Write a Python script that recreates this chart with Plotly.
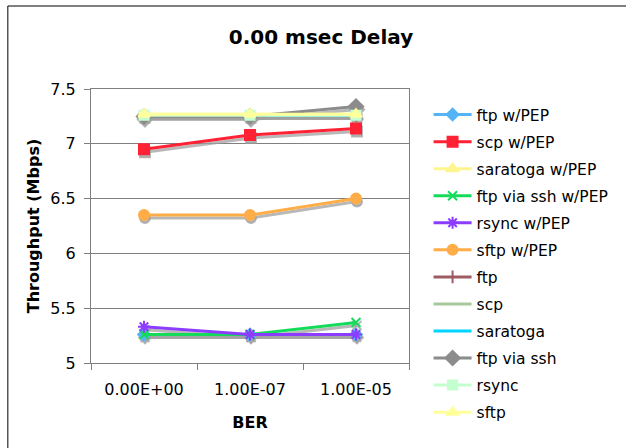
import plotly.graph_objects as go

categories = ["0.00E+00", "1.00E-07", "1.00E-05"]

series_names = [
    "ftp w/PEP", "scp w/PEP", "saratoga w/PEP", "ftp via ssh w/PEP",
    "rsync w/PEP", "sftp w/PEP", "ftp", "scp", "saratoga",
    "ftp via ssh", "rsync", "sftp",
]

ftp_pep = [5.26, 5.26, 5.26]
scp_pep = [6.95, 7.08, 7.14]
saratoga_pep = [7.27, 7.27, 7.27]
ftp_ssh_pep = [5.26, 5.26, 5.37]
rsync_pep = [5.33, 5.26, 5.26]
sftp_pep = [6.35, 6.35, 6.50]
ftp = [7.26, 7.26, 7.26]
scp = [7.26, 7.26, 7.26]
saratoga = [7.26, 7.26, 7.26]
ftp_ssh = [7.25, 7.25, 7.34]
rsync = [7.26, 7.26, 7.26]
sftp = [7.27, 7.27, 7.27]

values = [ftp_pep, scp_pep, saratoga_pep, ftp_ssh_pep, rsync_pep, sftp_pep,
          ftp, scp, saratoga, ftp_ssh, rsync, sftp]

colors = ["#55b4f5", "#ff2234", "#fff58f", "#14dc5a", "#8c3cff", "#ffad48",
          "#9c5c62", "#a8c89c", "#00d4ff", "#8c8c8c", "#c4ffd0", "#ffff9c"]
symbols = ["diamond", "square", "triangle-up", "x-thin-open", "asterisk-open", "circle",
           "cross-thin-open", None, None, "diamond", "square", "triangle-up"]
sizes = [9, 10, 10, 9, 10, 10, 9, 0, 0, 11, 9, 10]

W, H = 626, 448
L, R, T, B = 91, 416, 89, 363
pw, ph = R - L, B - T

fig = go.Figure()

# shadows (drawn on base axes, shifted a few pixels)
for name, vals, sym, sz in zip(series_names, values, symbols, sizes):
    fig.add_trace(go.Scatter(
        x=categories, y=vals, xaxis="x", yaxis="y",
        mode="lines+markers" if sym else "lines",
        line=dict(color="rgba(160,160,160,0.75)", width=3),
        marker=dict(symbol=sym or "circle", size=sz, color="rgba(160,160,160,0.75)",
                    line=dict(color="rgba(160,160,160,0.75)", width=2)),
        showlegend=False, hoverinfo="skip"))

for i, (name, vals, col, sym, sz) in enumerate(zip(series_names, values, colors, symbols, sizes)):
    fig.add_trace(go.Scatter(
        x=categories, y=vals, xaxis="x2", yaxis="y2", name=name,
        legendgroup=f"g{i}",
        mode="lines+markers" if sym else "lines",
        line=dict(color=col, width=3),
        marker=dict(symbol=sym or "circle", size=sz, color=col,
                    line=dict(color=col, width=2)),
    ))

dx = 1.0 * 3 / pw
dy = 3.0 * 2.5 / ph

fig.update_layout(
    width=W, height=H,
    margin=dict(l=L, r=W - R, t=T, b=H - B),
    paper_bgcolor="white", plot_bgcolor="white",
    font=dict(family="DejaVu Sans", color="black", size=16),
    title=dict(text="0.00 msec Delay", x=321 / W, xanchor="center",
               y=1 - 37 / H, yanchor="middle",
               font=dict(family="DejaVu Sans", size=20, weight="bold", color="black")),
    xaxis=dict(type="category", range=[-0.5 - dx, 2.5 - dx], visible=False),
    yaxis=dict(range=[5 + dy, 7.5 + dy], visible=False),
    xaxis2=dict(type="category", overlaying="x", anchor="y2", side="bottom",
                range=[-0.5, 2.5], tickson="boundaries", ticks="outside",
                ticklen=6, tickcolor="#808080", showline=True, mirror=True,
                linecolor="#808080", linewidth=1, showgrid=False,
                tickfont=dict(size=16), ticklabelstandoff=12,
                title=dict(text="BER", font=dict(size=16, weight="bold"), standoff=18)),
    yaxis2=dict(overlaying="y", anchor="x2", side="left", range=[5, 7.5], dtick=0.5,
                ticks="outside", ticklen=6, tickcolor="#808080", showline=True,
                mirror=True, linecolor="#808080", linewidth=1,
                showgrid=True, gridcolor="#808080", gridwidth=1, zeroline=False,
                tickfont=dict(size=16), ticklabelstandoff=5,
                title=dict(text="Throughput (Mbps)", font=dict(size=16, weight="bold"),
                           standoff=6)),
    legend=dict(x=(436 - L) / pw, xanchor="left", y=(B - 98) / ph, yanchor="top",
                bgcolor="rgba(0,0,0,0)", font=dict(size=15.5), maxheight=420,
                tracegroupgap=3.9, traceorder="grouped", itemwidth=38),
    shapes=[dict(type="rect", xref="paper", yref="paper",
                 x0=(6 - L) / pw, x1=(640 - L) / pw,
                 y0=(B - 460) / ph, y1=(B - 6) / ph,
                 line=dict(color="black", width=1), fillcolor="rgba(0,0,0,0)")],
)

fig.write_html("out.html")
